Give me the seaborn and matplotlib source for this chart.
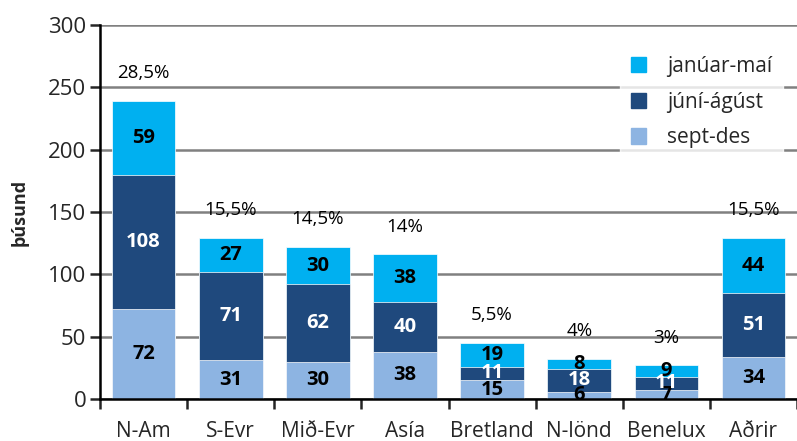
import numpy as np
import pandas as pd
import matplotlib
matplotlib.use("Agg")
import matplotlib.pyplot as plt
import seaborn as sns
from matplotlib.patches import Patch

# gögn lesin af myndinni
flokkar = ["N-Am", "S-Evr", "Mið-Evr", "Asía", "Bretland", "N-lönd", "Benelux", "Aðrir"]
sept_des = [72, 31, 30, 38, 15, 6, 7, 34]
juni_agust = [108, 71, 62, 40, 11, 18, 11, 51]
januar_mai = [59, 27, 30, 38, 19, 8, 9, 44]
hlutfall = ["28,5%", "15,5%", "14,5%", "14%", "5,5%", "4%", "3%", "15,5%"]

sns.set_style("white")
plt.rcParams["font.family"] = ["Open Sans", "DejaVu Sans"]

c_jan = "#00B0F0"
c_jun = "#1F497D"
c_sep = "#8DB4E2"

df = pd.DataFrame({"flokkur": flokkar, "sept": sept_des, "juni": juni_agust, "jan": januar_mai})
df["t_sep"] = df["sept"]
df["t_jun"] = df["sept"] + df["juni"]
df["t_jan"] = df["t_jun"] + df["jan"]

fig = plt.figure(figsize=(7.97, 4.41), dpi=100)
ax = fig.add_axes([0.1255, 0.0952, 0.8745, 0.848])

# staflaðar súlur: hæsta summa teiknuð fyrst
for col, color in [("t_jan", c_jan), ("t_jun", c_jun), ("t_sep", c_sep)]:
    sns.barplot(data=df, x="flokkur", y=col, color=color, saturation=1, width=0.73,
                edgecolor="white", linewidth=0.5, ax=ax, zorder=3)

ax.set_ylim(0, 300)
ax.set_xlim(-0.5, len(flokkar) - 0.5)
ax.set_yticks(range(0, 301, 50))
ax.yaxis.grid(True, color="#808080", linewidth=1.8, zorder=0)
ax.set_axisbelow(True)
for s in ["top", "right"]:
    ax.spines[s].set_visible(False)
for s in ["left", "bottom"]:
    ax.spines[s].set_color("black")
    ax.spines[s].set_linewidth(1.8)
ax.spines["bottom"].set_zorder(5)

ax.tick_params(axis="y", which="major", length=7, width=1.8, direction="out", left=True, labelsize=16, pad=3)
ax.tick_params(axis="x", which="major", length=0, labelsize=15, pad=16)
ax.set_xticks(np.arange(-0.5, len(flokkar)), minor=True)
ax.tick_params(axis="x", which="minor", length=7, width=1.8, direction="out", bottom=True)
ax.set_xlabel("")
ax.set_ylabel("þúsund", fontsize=13, fontweight="bold", labelpad=14)

# gildi inni í súlum
for i in range(len(flokkar)):
    b0 = sept_des[i]
    b1 = b0 + juni_agust[i]
    b2 = b1 + januar_mai[i]
    ax.text(i, b0 / 2, str(sept_des[i]), ha="center", va="center", fontsize=14.5,
            fontweight="bold", color="black", zorder=6)
    ax.text(i, (b0 + b1) / 2, str(juni_agust[i]), ha="center", va="center", fontsize=14.5,
            fontweight="bold", color="white", zorder=6)
    ax.text(i, (b1 + b2) / 2, str(januar_mai[i]), ha="center", va="center", fontsize=14.5,
            fontweight="bold", color="black", zorder=6)
    ax.annotate(hlutfall[i], (i, b2), xytext=(0, 20), textcoords="offset points",
                ha="center", va="center", fontsize=13.5, color="black", zorder=6)

handles = [Patch(color=c_jan, label="janúar-maí"),
           Patch(color=c_jun, label="júní-ágúst"),
           Patch(color=c_sep, label="sept-des")]
leg = ax.legend(handles=handles, loc="upper left", bbox_to_anchor=(0.765, 0.92),
                bbox_transform=fig.transFigure, frameon=True, fontsize=15,
                handlelength=0.75, handleheight=0.75, handletextpad=1.0, labelspacing=0.7,
                borderpad=0.5, fancybox=False)
leg.get_frame().set_facecolor("white")
leg.get_frame().set_edgecolor("white")
leg.set_zorder(7)

fig.savefig("out.png", dpi=100)
